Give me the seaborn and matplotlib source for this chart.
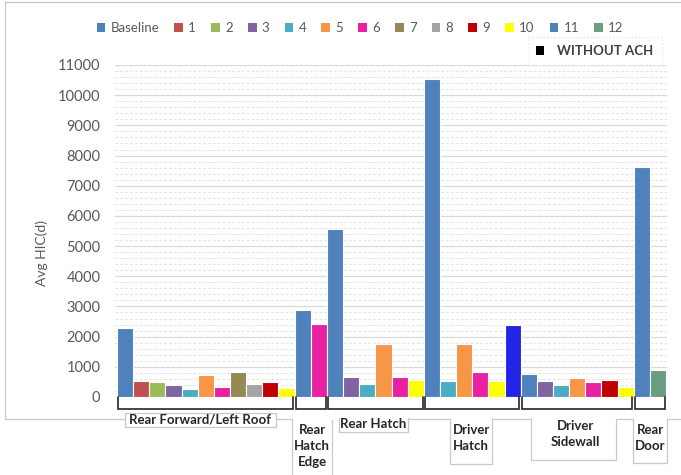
import numpy as np
import pandas as pd
import matplotlib.pyplot as plt
import seaborn as sns
from matplotlib.patches import Patch, Rectangle
from matplotlib.lines import Line2D
from matplotlib.transforms import blended_transform_factory, Bbox, TransformedBbox

sns.set_theme(style='white')
plt.rcParams['font.family'] = ['Lato', 'DejaVu Sans']

# groups of impact locations, with the series tested at each one
groups = ["Rear Forward/Left Roof", "Rear Hatch Edge", "Rear Hatch",
          "Driver Hatch", "Driver Sidewall", "Rear Door"]
group_labels = ["Rear Forward/Left Roof", "Rear\nHatch\nEdge", "Rear Hatch",
                "Driver\nHatch", "Driver\nSidewall", "Rear\nDoor"]

roof_series = ["Baseline", "1", "2", "3", "4", "5", "6", "7", "8", "9", "10"]
roof_vals = [2270, 530, 490, 390, 260, 720, 340, 820, 430, 490, 300]
edge_series = ["Baseline", "6"]
edge_vals = [2870, 2410]
hatch_series = ["Baseline", "3", "4", "5", "6", "10"]
hatch_vals = [5560, 660, 430, 1760, 660, 570]
dhatch_series = ["Baseline", "4", "5", "6", "10", "11"]
dhatch_vals = [10540, 530, 1760, 820, 530, 2370]
side_series = ["Baseline", "3", "4", "5", "6", "9", "10"]
side_vals = [760, 530, 390, 620, 490, 570, 340]
door_series = ["Baseline", "12"]
door_vals = [7630, 900]

legend_series = ["Baseline", "1", "2", "3", "4", "5", "6", "7", "8", "9", "10", "11", "12"]

colors = {"Baseline": "#4F81BD", "1": "#C0504D", "2": "#9BBB59", "3": "#8064A2",
          "4": "#4BACC6", "5": "#F79646", "6": "#E821A3", "7": "#948A54",
          "8": "#A5A5A5", "9": "#C00000", "10": "#FFFF00", "11": "#4F81BD",
          "12": "#6A9E80"}

rows = []
for g, ser, vals in zip(groups,
                        [roof_series, edge_series, hatch_series, dhatch_series, side_series, door_series],
                        [roof_vals, edge_vals, hatch_vals, dhatch_vals, side_vals, door_vals]):
    for s, v in zip(ser, vals):
        rows.append((g, s, v))
df = pd.DataFrame(rows, columns=["group", "series", "hic"])
df["pos"] = np.arange(len(df))
df["key"] = df["pos"].astype(str)

bar_colors = [colors[s] for s in df["series"]]
# the series 11 bar at the driver hatch is drawn in a brighter blue
for i, (g, s) in enumerate(zip(df["group"], df["series"])):
    if g == "Driver Hatch" and s == "11":
        bar_colors[i] = "#2424E6"
palette = dict(zip(df["key"], bar_colors))

W, H = 681, 475
fig = plt.figure(figsize=(W / 100, H / 100), dpi=100)
ax = fig.add_axes([115 / W, 1 - 397 / H, 552 / W, 332 / H])

# grid
for y in np.arange(200, 11001, 200):
    if y % 1000 == 0:
        ax.axhline(y, color='#D9D9D9', lw=0.9, zorder=0)
    else:
        ax.axhline(y, color='#E3E3E3', lw=0.7, ls=(0, (3, 2)), zorder=0)

sns.barplot(data=df, x="pos", y="hic", hue="key", palette=palette, dodge=False,
            width=1.0, legend=False, edgecolor='white', linewidth=0.8, ax=ax,
            saturation=1)

unit = 549 / len(df)
ax.set_xlim(-0.5 - 2 / unit, len(df) - 0.5 + 1 / unit)
ax.set_ylim(0, 11000)
ax.set_yticks(np.arange(0, 11001, 1000))
ax.set_xticks([])
ax.set_xlabel("")
ax.tick_params(axis='y', length=0, pad=10.5, labelsize=10.5, labelcolor='#595959')
ax.set_ylabel("Avg HIC(d)", fontsize=10, color='#595959')
ax.yaxis.label.set_va('center')
ax.yaxis.set_label_coords((42 - 115) / 552, (397 - 253) / 332)
for sp in ax.spines.values():
    sp.set_visible(False)

# brackets under each group
trans = blended_transform_factory(ax.transData, ax.transAxes)
yb = -12 / 332
start = 0
for g in groups:
    n = int((df["group"] == g).sum())
    x0, x1 = start - 0.5 + 0.08, start + n - 0.5 - 0.08
    ax.plot([x0, x0, x1, x1], [0, yb, yb, 0], color='#262626', lw=1.2,
            transform=trans, clip_on=False, solid_joinstyle='miter')
    start += n

def fx(x):
    return x / W

def fy(y):
    return 1 - y / H

# chart frame and the label boxes beneath the axis
frame_col = '#C8C8C8'
paths = [
    [(5, 2), (681, 2)],
    [(5, 2), (5, 419), (125, 419)],
    [(276, 419), (292, 419), (292, 475)],
    [(332, 420), (332, 475)],
    [(339, 418), (339, 432), (408, 432), (408, 418)],
    [(408, 419), (450, 419), (450, 464), (492, 464), (492, 419), (531, 419),
     (531, 460), (616, 460), (616, 419), (633, 419), (633, 463), (667, 463),
     (667, 419), (681, 419)],
]
for p in paths:
    xs, ys = zip(*p)
    fig.add_artist(Line2D([fx(x) for x in xs], [fy(y) for y in ys],
                          color=frame_col, lw=0.9, transform=fig.transFigure))
fig.add_artist(Rectangle((fx(125), fy(427)), (276 - 125) / W, 14 / H, fill=False,
                         edgecolor=frame_col, lw=0.9, transform=fig.transFigure))

label_pos = [(200, 420), (312, 446), (373, 424), (471, 438), (575, 434), (650, 438)]
for lab, (px, py) in zip(group_labels, label_pos):
    t = fig.text(fx(px), fy(py), lab, ha='center', va='center', fontsize=9.5,
                 fontweight='bold', color='#262626', linespacing=1.45)
    if lab.startswith("Rear Forward"):
        t.set_clip_box(TransformedBbox(Bbox([[fx(125), fy(440)], [fx(276), fy(405)]]),
                                       fig.transFigure))
        t.set_clip_on(True)

# legends
handles = [Patch(facecolor=colors[s], edgecolor='none', label=s) for s in legend_series]
fig.legend(handles=handles, loc='center', bbox_to_anchor=(fx(360), fy(28)), ncol=13,
           frameon=False, fontsize=9.5, handlelength=0.65, handleheight=0.65,
           handletextpad=0.4, columnspacing=1.15, labelcolor='#595959',
           borderaxespad=0)

leg2 = fig.legend(handles=[Patch(facecolor='black', edgecolor='none', label='WITHOUT ACH')],
                  loc='center', bbox_to_anchor=(fx(595), fy(51)), frameon=True,
                  fontsize=9.5, handlelength=0.6, handleheight=0.6, handletextpad=1.0,
                  borderpad=0.6, labelcolor='#404040')
leg2.get_frame().set_facecolor('white')
leg2.get_frame().set_edgecolor('#E0E0E0')
leg2.get_frame().set_linestyle(':')
leg2.get_frame().set_boxstyle('square', pad=0)
leg2.get_texts()[0].set_fontweight('bold')

fig.savefig("out.png", dpi=100)
